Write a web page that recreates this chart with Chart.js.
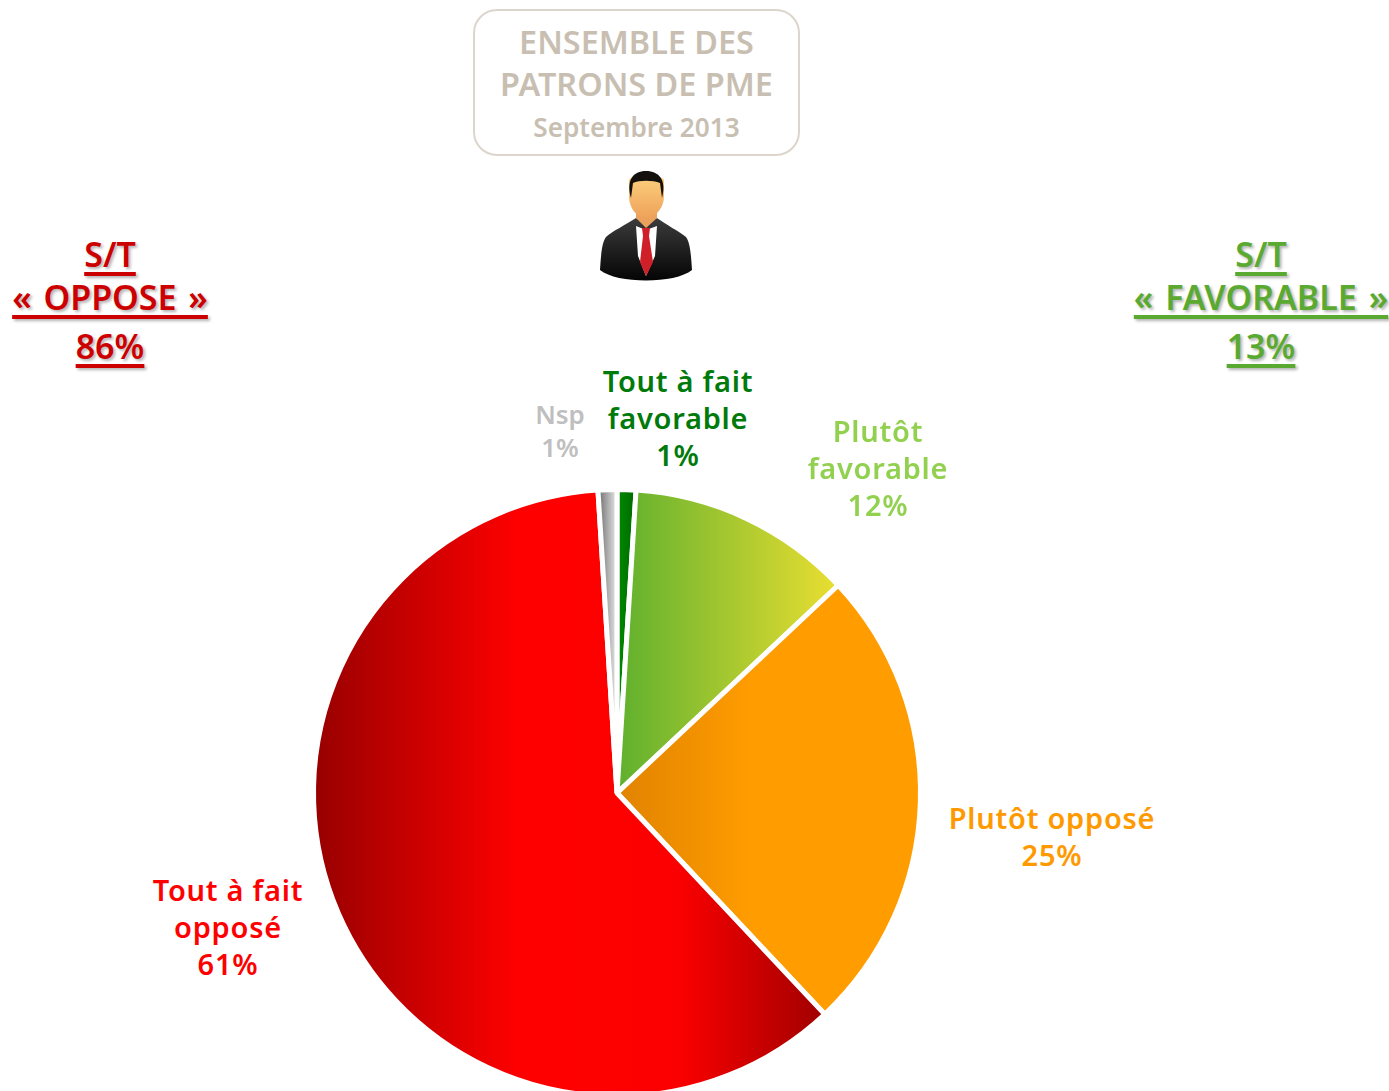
<!DOCTYPE html>
<html lang="fr">
<head>
<meta charset="utf-8">
<title>Ensemble des patrons de PME</title>
<script src="https://cdn.jsdelivr.net/npm/chart.js@4"></script>
<style>
    html, body { margin: 0; padding: 0; background: #fff; }
    body { position: relative; width: 1389px; height: 1091px; overflow: hidden; font-family: "Noto Sans", sans-serif; }
    #pieBox { position: absolute; left: 309px; top: 485px; width: 616px; height: 616px; }
    .label { position: absolute; transform: translateX(-50%); text-align: center; white-space: pre; font-weight: 600; font-size: 29px; line-height: 37px; letter-spacing: .75px; }
    .summary { position: absolute; transform: translateX(-50%); text-align: center; white-space: pre; font-weight: 600; font-size: 34px; line-height: 45px; word-spacing: 3px; text-decoration: underline; text-decoration-thickness: 4px; text-underline-offset: 5px; text-shadow: 2px 2px 3px rgba(0,0,0,.3); }
    #titleBox { position: absolute; left: 473px; top: 9px; width: 323px; height: 143px; border: 2px solid #dcd5cb; border-radius: 24px; color: #c8bfb2; text-align: center; font-weight: 600; }
    #titleBox div { position: absolute; left: 0; right: 0; }
    #person { position: absolute; left: 595px; top: 168px; }
</style>
</head>
<body>
<div id="titleBox"></div>
<svg id="person" width="102" height="116" viewBox="0 0 102 116">
    <defs>
        <linearGradient id="skin" x1="0" y1="0" x2="0" y2="1"><stop offset="0" stop-color="#fcd07e"/><stop offset="1" stop-color="#eea25a"/></linearGradient>
        <linearGradient id="suit" x1="0" y1="0" x2="0" y2="1"><stop offset="0" stop-color="#3c3c3c"/><stop offset="1" stop-color="#040404"/></linearGradient>
    </defs>
    <path d="M5 102 C6 86 7 74 11 69 C16 64 32 56 41 50 L51 56 L62 50 C70 56 85 64 91 69 C95 74 96 86 97 102 C80 116 22 116 5 102 Z" fill="url(#suit)"/>
    <path d="M41 58 L51 62 L62 58 L60 88 L51 108 L43 88 Z" fill="#fff"/>
    <path d="M47 60 L55 60 L54 68 L58 94 L51 108 L45 94 L48 68 Z" fill="#cf1f28"/>
    <path d="M41 42 L41 50 L51 60 L62 50 L62 42 Z" fill="#eaa25c"/>
    <path d="M34 12 C36 6 66 6 69 12 L69 28 C69 40 60 50 51 50 C42 50 34 40 34 28 Z" fill="url(#skin)"/>
    <path d="M36 30 C31 12 38 3 51 3 C64 3 72 12 67 30 L65 15 C58 12 44 12 38 15 Z" fill="#14100e"/>
</svg>
<div id="pieBox"><canvas id="pieChart" width="616" height="616"></canvas></div>
<script>
const categories = ['Tout à fait\nfavorable', 'Plutôt\nfavorable', 'Plutôt opposé', 'Tout à fait\nopposé', 'Nsp'];
const values = [1, 12, 25, 61, 1];
const labelColors = ['#007a0a', '#92d050', '#ff9900', '#ff0000', '#bfbfbf'];
const summaryTitles = ['S/T\n« OPPOSE »', 'S/T\n« FAVORABLE »'];
const summaryValues = [86, 13];
const summaryColors = ['#cc0000', '#5aaa32'];
const titleLines = ['ENSEMBLE DES', 'PATRONS DE PME', 'Septembre 2013'];

// where the html labels sit: [center x, top y]
const labelSpots = [[678, 362], [878, 412], [1052, 799], [228, 871], [560, 398]];
const summarySpots = [[110, 232], [1261, 232]];
const titleSpots = [[8, 32.4], [50, 32.4], [98, 26.2]];

// gradient stops per slice, as fractions of the pie width
const sliceStops = [
    [[0.50, '#008a00'], [0.53, '#006a00']],
    [[0.50, '#5fb02e'], [0.85, '#e6dd31']],
    [[0.50, '#e08300'], [0.72, '#ff9c00'], [1, '#ff9c00']],
    [[0, '#960000'], [0.34, '#ff0000'], [0.60, '#fb0000'], [0.84, '#a00000']],
    [[0.47, '#707070'], [0.50, '#e8e8e8']]
];

function sliceFill(context) {
    const chart = context.chart;
    const area = chart.chartArea;
    if (!area) return '#ccc';
    const grad = chart.ctx.createLinearGradient(area.left, 0, area.right, 0);
    sliceStops[context.dataIndex].forEach(s => grad.addColorStop(s[0], s[1]));
    return grad;
}

new Chart(document.getElementById('pieChart'), {
    type: 'pie',
    data: {
        labels: categories,
        datasets: [{
            data: values,
            backgroundColor: sliceFill,
            borderColor: '#ffffff',
            borderWidth: 5,
            borderAlign: 'center'
        }]
    },
    options: {
        responsive: false,
        animation: false,
        layout: { padding: 2 },
        plugins: { legend: { display: false }, tooltip: { enabled: false } }
    }
});

categories.forEach((name, i) => {
    const el = document.createElement('div');
    el.className = 'label';
    el.textContent = `${name}\n${values[i]}%`;
    el.style.left = labelSpots[i][0] + 'px';
    el.style.top = labelSpots[i][1] + 'px';
    el.style.color = labelColors[i];
    if (i === 4) { el.style.fontSize = '26px'; el.style.lineHeight = '33px'; el.style.letterSpacing = '0'; }
    document.body.appendChild(el);
});

summaryTitles.forEach((name, i) => {
    const lines = name.split('\n').concat(summaryValues[i] + '%');
    lines.forEach((line, j) => {
        const el = document.createElement('div');
        el.className = 'summary';
        el.textContent = line;
        el.style.left = summarySpots[i][0] + 'px';
        el.style.top = (summarySpots[i][1] + [0, 43, 92][j]) + 'px';
        el.style.color = summaryColors[i];
        document.body.appendChild(el);
    });
});

const titleBox = document.getElementById('titleBox');
titleLines.forEach((line, i) => {
    const el = document.createElement('div');
    el.textContent = line;
    el.style.top = titleSpots[i][0] + 'px';
    el.style.fontSize = titleSpots[i][1] + 'px';
    titleBox.appendChild(el);
});
</script>
</body>
</html>
